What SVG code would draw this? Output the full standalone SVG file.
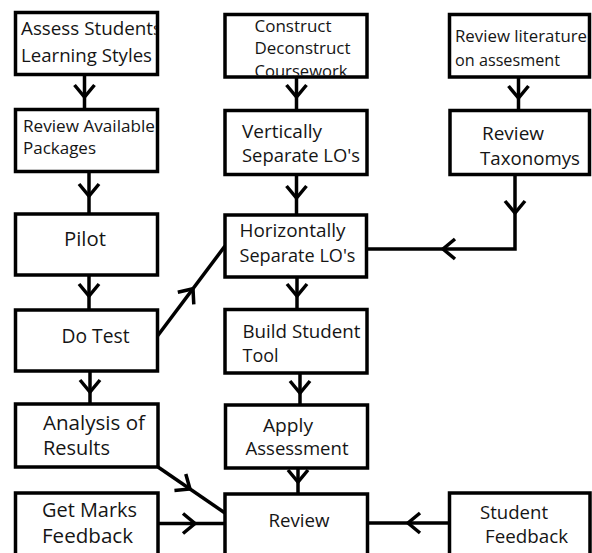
<svg xmlns="http://www.w3.org/2000/svg" xmlns:xlink="http://www.w3.org/1999/xlink" width="592" height="553" viewBox="0 0 592 553">
<style>
.box{fill:#fff;stroke:#000;stroke-width:3.5}
.ln{fill:none;stroke:#000;stroke-width:3.5}
.chev{fill:none;stroke:#000;stroke-width:3.5;stroke-linejoin:miter}
text{font-family:"Open Sans","Noto Sans","Liberation Sans",sans-serif;fill:#151515}
.s17{font-size:17px}
.s19{font-size:18.7px}
.s20{font-size:19.5px}
</style>
<defs>
<path id="chev" class="chev" d="M-12,-10 L0,0 L-12,10"/>
<clipPath id="clipB1"><rect x="0" y="0" width="155.75" height="80"/></clipPath>
<clipPath id="clipC"><rect x="200" y="0" width="200" height="75.5"/></clipPath>
</defs>
<rect width="592" height="553" fill="#fff"/>
<g id="connectors">
<path class="ln" d="M84.5,74.5 V109.5"/>
<use href="#chev" transform="translate(84.5,97) rotate(90)"/>
<path class="ln" d="M89,171.5 V214"/>
<use href="#chev" transform="translate(89,196) rotate(90)"/>
<path class="ln" d="M89,275 V310"/>
<use href="#chev" transform="translate(89,296) rotate(90)"/>
<path class="ln" d="M90,371 V404"/>
<use href="#chev" transform="translate(90,392) rotate(90)"/>
<path class="ln" d="M296.5,77 V110.5"/>
<use href="#chev" transform="translate(296.5,97) rotate(90)"/>
<path class="ln" d="M296.5,174.5 V215"/>
<use href="#chev" transform="translate(296.5,198) rotate(90)"/>
<path class="ln" d="M297,277 V309.5"/>
<use href="#chev" transform="translate(297,296) rotate(90)"/>
<path class="ln" d="M300,373 V405"/>
<use href="#chev" transform="translate(300,393) rotate(90)"/>
<path class="ln" d="M298,468 V494"/>
<use href="#chev" transform="translate(298,482) rotate(90)"/>
<path class="ln" d="M518.5,77 V110.5"/>
<use href="#chev" transform="translate(518.5,98) rotate(90)"/>
<path class="ln" d="M515,174.5 V249 H366.5"/>
<use href="#chev" transform="translate(515,213) rotate(90)"/>
<use href="#chev" transform="translate(443,249) rotate(180)"/>
<path class="ln" d="M157.5,336 L225,246"/>
<use href="#chev" transform="translate(193,288.7) rotate(-53.1)"/>
<path class="ln" d="M158,467 L225,513"/>
<use href="#chev" transform="translate(190,489) rotate(34.5)"/>
<path class="ln" d="M157.5,523.5 H225"/>
<use href="#chev" transform="translate(195,523.5)"/>
<path class="ln" d="M449.5,523 H367.5"/>
<use href="#chev" transform="translate(408,523) rotate(180)"/>
</g>
<g id="assess">
<rect class="box" x="15.5" y="12.5" width="142" height="62"/>
<g clip-path="url(#clipB1)">
<text x="21" y="35" style="font-size:18.5px" textLength="141" lengthAdjust="spacingAndGlyphs">Assess Students</text>
<text x="21" y="62" style="font-size:18.5px" textLength="131" lengthAdjust="spacingAndGlyphs">Learning Styles</text>
</g>
</g>
<g id="packages">
<rect class="box" x="15.5" y="109.5" width="142" height="62"/>
<text class="s17" x="23" y="131.5" textLength="132" lengthAdjust="spacingAndGlyphs">Review Available</text>
<text class="s17" x="23" y="154" textLength="73" lengthAdjust="spacingAndGlyphs">Packages</text>
</g>
<g id="pilot">
<rect class="box" x="15.5" y="214" width="142" height="61"/>
<text class="s20" x="64" y="246" textLength="42" lengthAdjust="spacingAndGlyphs">Pilot</text>
</g>
<g id="dotest">
<rect class="box" x="15.5" y="310" width="142" height="61"/>
<text class="s20" x="61.5" y="343" textLength="68" lengthAdjust="spacingAndGlyphs">Do Test</text>
</g>
<g id="analysis">
<rect class="box" x="15.5" y="404" width="142.5" height="63"/>
<text class="s20" x="43" y="430" textLength="102" lengthAdjust="spacingAndGlyphs">Analysis of</text>
<text class="s20" x="43" y="455" textLength="67" lengthAdjust="spacingAndGlyphs">Results</text>
</g>
<g id="getmarks">
<rect class="box" x="15.5" y="493" width="142.5" height="80"/>
<text class="s20" x="42" y="517" textLength="95" lengthAdjust="spacingAndGlyphs">Get Marks</text>
<text class="s20" x="42" y="543" textLength="91" lengthAdjust="spacingAndGlyphs">Feedback</text>
</g>
<g id="construct">
<rect class="box" x="225" y="14.5" width="142" height="62.5"/>
<g clip-path="url(#clipC)">
<text class="s17" x="254.5" y="32" textLength="77" lengthAdjust="spacingAndGlyphs">Construct</text>
<text class="s17" x="254.5" y="54" textLength="96" lengthAdjust="spacingAndGlyphs">Deconstruct</text>
<text class="s17" x="254.5" y="77" textLength="93" lengthAdjust="spacingAndGlyphs">Coursework</text>
</g>
</g>
<g id="vertically">
<rect class="box" x="225" y="110.5" width="142" height="64"/>
<text class="s19" x="242" y="138" textLength="80" lengthAdjust="spacingAndGlyphs">Vertically</text>
<text class="s19" x="242" y="162" textLength="118" lengthAdjust="spacingAndGlyphs">Separate LO's</text>
</g>
<g id="horizontally">
<rect class="box" x="225" y="215" width="141.5" height="62"/>
<text class="s19" x="239.5" y="237" textLength="106" lengthAdjust="spacingAndGlyphs">Horizontally</text>
<text class="s19" x="239.5" y="262" textLength="116" lengthAdjust="spacingAndGlyphs">Separate LO's</text>
</g>
<g id="build">
<rect class="box" x="225" y="309.5" width="142" height="63.5"/>
<text class="s19" x="242.5" y="338" textLength="118" lengthAdjust="spacingAndGlyphs">Build Student</text>
<text class="s19" x="242.5" y="362" textLength="36" lengthAdjust="spacingAndGlyphs">Tool</text>
</g>
<g id="apply">
<rect class="box" x="225.5" y="405" width="142" height="63"/>
<text class="s19" x="263" y="432" textLength="50" lengthAdjust="spacingAndGlyphs">Apply</text>
<text class="s19" x="245.5" y="455" textLength="103" lengthAdjust="spacingAndGlyphs">Assessment</text>
</g>
<g id="review">
<rect class="box" x="225" y="494" width="142.5" height="80"/>
<text class="s19" x="268.5" y="527" textLength="61" lengthAdjust="spacingAndGlyphs">Review</text>
</g>
<g id="literature">
<rect class="box" x="449.5" y="14.5" width="140" height="62.5"/>
<text class="s17" x="455" y="42" textLength="132" lengthAdjust="spacingAndGlyphs">Review literature</text>
<text class="s17" x="455" y="66" textLength="105" lengthAdjust="spacingAndGlyphs">on assesment</text>
</g>
<g id="taxonomys">
<rect class="box" x="450" y="110.5" width="139.5" height="64"/>
<text class="s19" x="482" y="140" textLength="62" lengthAdjust="spacingAndGlyphs">Review</text>
<text class="s19" x="480" y="165" textLength="100" lengthAdjust="spacingAndGlyphs">Taxonomys</text>
</g>
<g id="studentfeedback">
<rect class="box" x="449.5" y="493" width="140.5" height="80"/>
<text class="s19" x="480" y="519" textLength="68" lengthAdjust="spacingAndGlyphs">Student</text>
<text class="s19" x="485" y="543" textLength="83" lengthAdjust="spacingAndGlyphs">Feedback</text>
</g>
</svg>
